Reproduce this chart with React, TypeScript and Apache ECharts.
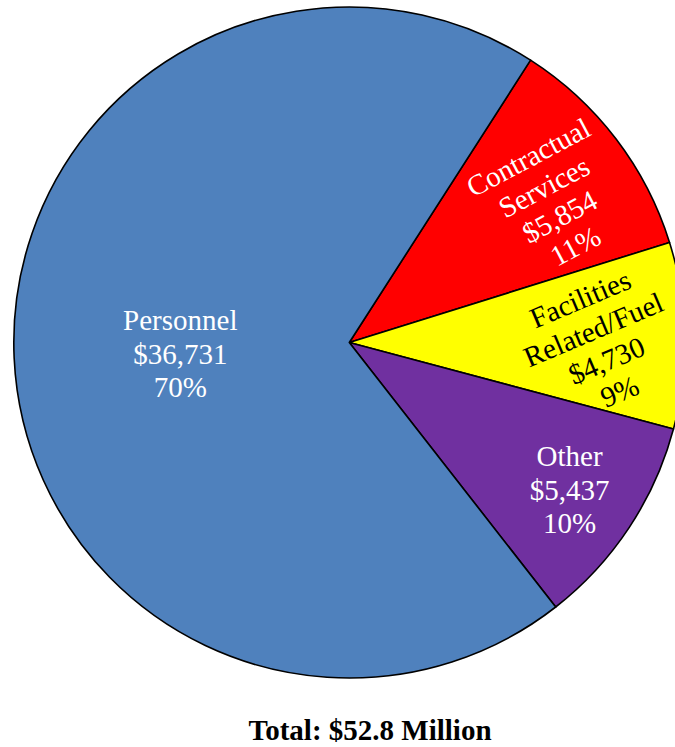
import React, { useEffect, useRef } from "react";
import * as echarts from "echarts";

const categories = ["Contractual\nServices", "Facilities\nRelated/Fuel", "Other", "Personnel"];
const values = [5854, 4730, 5437, 36731];
const percents = ["11%", "9%", "10%", "70%"];
const valueLabels = ["$5,854", "$4,730", "$5,437", "$36,731"];
const totalLabel = "Total: $52.8 Million";

const COLORS = ["#FF0000", "#FFFF00", "#7030A0", "#4F81BD"];
const LABEL_COLORS = ["#FFFFFF", "#000000", "#FFFFFF", "#FFFFFF"];
const LABEL_ROTATE = [28, 23, 0, 0];
const LABEL_RADIUS_FACTOR = [0.735, 0.747, 0.79, 0.505];
const LABEL_ANGLE_DELTA = [-2.5, -1.8, -0.3, 1.2];

const CX = 349.3;
const CY = 342.5;
const R = 335.5;
const START = 57.3;

export default function App() {
  const ref = useRef<HTMLDivElement>(null);
  useEffect(() => {
    if (!ref.current) return;
    const chart = echarts.init(ref.current, null, { renderer: "svg" });
    const total = values.reduce((a, b) => a + b, 0);
    const mids: number[] = [];
    let cum = 0;
    values.forEach((v) => {
      mids.push(START - ((cum + v / 2) * 360) / total);
      cum += v;
    });
    chart.setOption({
      animation: false,
      graphic: [
        {
          type: "text",
          x: 370,
          y: 730,
          style: {
            text: totalLabel,
            textAlign: "center",
            textVerticalAlign: "middle",
            fontFamily: "Liberation Serif",
            fontSize: 29,
            fontWeight: "bold",
            fill: "#000",
          },
        },
      ],
      series: [
        {
          type: "pie",
          center: [CX, CY],
          radius: [0, R],
          startAngle: START,
          clockwise: true,
          avoidLabelOverlap: false,
          itemStyle: { borderColor: "#000", borderWidth: 1.6 },
          labelLine: { show: false },
          label: {
            show: true,
            position: "inside",
            fontFamily: "Liberation Serif",
            fontSize: 29,
            lineHeight: 33.5,
            align: "center",
          },
          labelLayout: (params: any) => {
            const i = params.dataIndex;
            const a = ((mids[i] + LABEL_ANGLE_DELTA[i]) * Math.PI) / 180;
            const rr = LABEL_RADIUS_FACTOR[i] * R;
            return {
              x: CX + rr * Math.cos(a),
              y: CY - rr * Math.sin(a),
              align: "center",
              verticalAlign: "middle",
            };
          },
          data: categories.map((name, i) => ({
            name,
            value: values[i],
            itemStyle: { color: COLORS[i] },
            label: {
              color: LABEL_COLORS[i],
              rotate: LABEL_ROTATE[i],
              formatter: `${name}\n${valueLabels[i]}\n${percents[i]}`,
            },
          })),
        },
      ],
    });
    return () => chart.dispose();
  }, []);
  return (
    <div
      ref={ref}
      style={{ position: "fixed", left: 0, top: 0, width: 675, height: 747, background: "#fff" }}
    />
  );
}
